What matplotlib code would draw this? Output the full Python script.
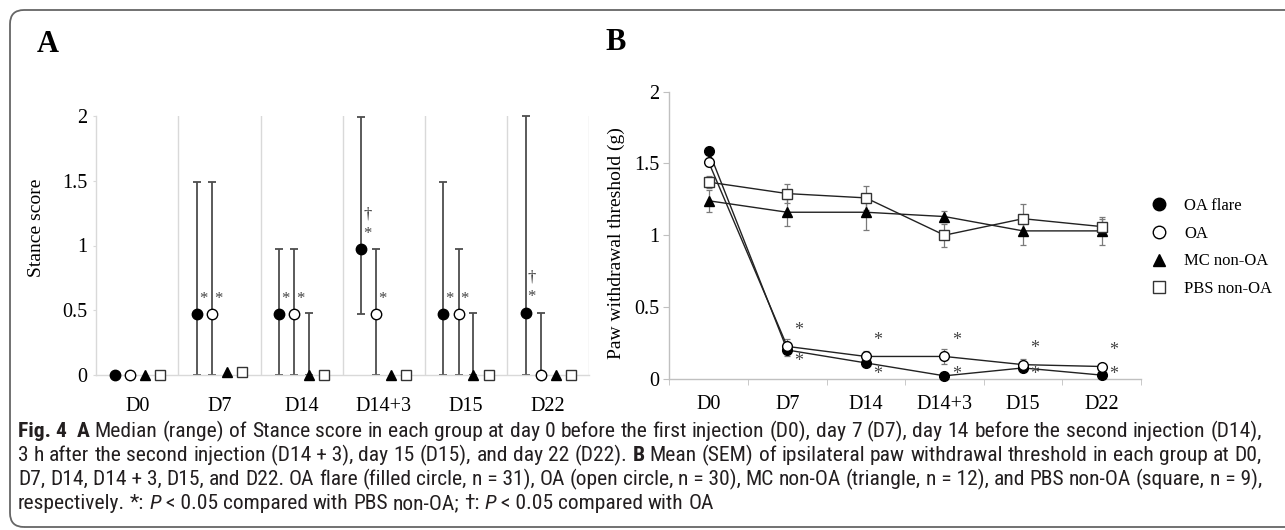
import re

import numpy as np
import matplotlib
matplotlib.use("Agg")
import matplotlib.pyplot as plt
from matplotlib import font_manager
from matplotlib.patches import FancyBboxPatch
from matplotlib.ticker import FormatStrFormatter, FixedLocator
from matplotlib.transforms import IdentityTransform

# ---- data -------------------------------------------------------------
days = ["D0", "D7", "D14", "D14+3", "D15", "D22"]
groups = ["OA flare", "OA", "MC non-OA", "PBS non-OA"]

# panel A: stance score, median and range
stance_med = {
    "OA flare":   [0, 0.47, 0.47, 0.97, 0.47, 0.48],
    "OA":         [0, 0.47, 0.47, 0.47, 0.47, 0],
    "MC non-OA":  [0, 0.02, 0, 0, 0, 0],
    "PBS non-OA": [0, 0.02, 0, 0, 0, 0],
}
stance_lo = {
    "OA flare":   [0, 0, 0, 0.47, 0, 0],
    "OA":         [0, 0, 0, 0, 0, 0],
    "MC non-OA":  [0, 0, 0, 0, 0, 0],
    "PBS non-OA": [0, 0, 0, 0, 0, 0],
}
stance_hi = {
    "OA flare":   [0, 1.49, 0.97, 1.99, 1.49, 2.0],
    "OA":         [0, 1.49, 0.97, 0.97, 0.97, 0.48],
    "MC non-OA":  [0, 0, 0.48, 0, 0.48, 0],
    "PBS non-OA": [0, 0, 0, 0, 0, 0],
}
stance_star = {"OA flare": [1, 2, 3, 4, 5], "OA": [1, 2, 3, 4]}
stance_dagger = {"OA flare": [3, 5]}

# panel B: paw withdrawal threshold, mean and SEM
paw_mean = {
    "OA flare":   [1.59, 0.20, 0.11, 0.02, 0.075, 0.025],
    "OA":         [1.51, 0.225, 0.155, 0.155, 0.098, 0.085],
    "MC non-OA":  [1.24, 1.16, 1.16, 1.13, 1.03, 1.03],
    "PBS non-OA": [1.37, 1.29, 1.26, 1.00, 1.115, 1.06],
}
paw_sem = {
    "OA flare":   [0.02, 0.04, 0.02, 0.01, 0.02, 0.01],
    "OA":         [0.03, 0.05, 0.04, 0.05, 0.04, 0.015],
    "MC non-OA":  [0.075, 0.095, 0.125, 0.04, 0.10, 0.10],
    "PBS non-OA": [0.04, 0.065, 0.085, 0.08, 0.105, 0.05],
}
paw_star_above = [1, 2, 3, 4, 5]   # OA vs PBS
paw_star_below = [1, 2, 3, 4, 5]   # OA flare vs PBS

caption = [
    "<b>Fig.\u00a04</b>\u00a0 <b>A</b> Median (range) of Stance score in each group at day 0 before the first "
    "injection (D0), day 7 (D7), day 14 before the second injection (D14),",
    "3 h after the second injection (D14\u00a0+\u00a03), day 15 (D15), and day 22 (D22). <b>B</b> Mean (SEM) "
    "of ipsilateral paw withdrawal threshold in each group at D0,",
    "D7, D14, D14\u00a0+\u00a03, D15, and D22. OA flare (filled circle, n\u00a0=\u00a031), OA (open circle, "
    "n\u00a0=\u00a030), MC non-OA (triangle, n\u00a0=\u00a012), and PBS non-OA (square, n\u00a0=\u00a09),",
    "respectively. *: <i>P</i>\u00a0<\u00a00.05 compared with PBS non-OA; \u2020: <i>P</i>\u00a0<\u00a00.05 "
    "compared with OA",
]

style = {
    "OA flare":   dict(marker="o", mfc="black", mec="black"),
    "OA":         dict(marker="o", mfc="white", mec="black"),
    "MC non-OA":  dict(marker="^", mfc="black", mec="black"),
    "PBS non-OA": dict(marker="s", mfc="white", mec="#333333"),
}
offsets = {"OA flare": -0.275, "OA": -0.09, "MC non-OA": 0.09, "PBS non-OA": 0.275}

plt.rcParams["font.family"] = ["Liberation Serif", "DejaVu Serif"]

W, H = 1285, 530
fig = plt.figure(figsize=(W / 100, H / 100), dpi=100)


def px_axes(left, top, right, bottom):
    return fig.add_axes([left / W, 1 - bottom / H, (right - left) / W, (bottom - top) / H])


x = np.arange(len(days))
grid_c = "#d9d9d9"

# ---- panel A ----------------------------------------------------------
axA = px_axes(96.3, 116, 589.3, 375)
for g in groups:
    med = np.array(stance_med[g])
    lo = np.array(stance_lo[g])
    hi = np.array(stance_hi[g])
    xs = x + offsets[g]
    has = hi > lo
    axA.errorbar(xs[has], med[has], yerr=[med[has] - lo[has], hi[has] - med[has]], fmt="none",
                 ecolor="#4d4d4d", elinewidth=1.3, capsize=3.2, capthick=1.3, zorder=2, clip_on=False)
    axA.plot(xs, med, ls="none", ms=7.5 if style[g]["marker"] != "s" else 7, mew=1.0,
             zorder=3, clip_on=False, **style[g])

for g, idx in stance_star.items():
    for i in idx:
        axA.text(i + offsets[g] + 0.075, stance_med[g][i] + 0.12, "*", ha="center", va="center",
                 fontsize=12, color="#444444")
for g, idx in stance_dagger.items():
    for i in idx:
        axA.text(i + offsets[g] + 0.075, stance_med[g][i] + 0.27, "\u2020", ha="center",
                 va="center", fontsize=12, color="#333333")

for b in np.arange(len(days)) + 0.5:
    axA.axvline(b, color=grid_c, lw=1.0, zorder=0)
axA.set_xlim(-0.5, len(days) - 0.5)
axA.set_ylim(0, 2)
axA.set_yticks([0, 0.5, 1, 1.5, 2])
axA.yaxis.set_major_formatter(FormatStrFormatter("%g"))
axA.set_xticks(x)
axA.set_xticklabels(days)
axA.tick_params(axis="x", length=0, pad=16, labelsize=14.5)
axA.tick_params(axis="y", length=2.5, color=grid_c, pad=4, labelsize=14.5)
for s in ["top", "right"]:
    axA.spines[s].set_visible(False)
for s in ["left", "bottom"]:
    axA.spines[s].set_color(grid_c)
    axA.spines[s].set_linewidth(1.0)
axA.set_ylabel("Stance score", fontsize=14)
axA.yaxis.set_label_coords(-0.104, 0.57)

# ---- panel B ----------------------------------------------------------
axB = px_axes(669.3, 91.7, 1141, 378.7)
handles = []
for g in groups:
    m = np.array(paw_mean[g])
    e = np.array(paw_sem[g])
    axB.errorbar(x, m, yerr=e, fmt="none", ecolor="#7a7a7a", elinewidth=0.9, capsize=2.2,
                 capthick=0.9, zorder=2)
    (ln,) = axB.plot(x, m, color="#222222", lw=1.0, ms=7 if style[g]["marker"] != "s" else 6.5,
                     mew=1.0, zorder=3, label=g, clip_on=False, **style[g])
    handles.append(ln)

oa = np.array(paw_mean["OA"])
fl = np.array(paw_mean["OA flare"])
for i in paw_star_above:
    axB.text(i + 0.15, oa[i] + 0.11, "*", ha="center", va="center", fontsize=13, color="#444444")
for i in paw_star_below:
    axB.text(i + 0.15, max(fl[i] - 0.08, 0.03), "*", ha="center", va="center", fontsize=13,
             color="#444444")

axB.set_xlim(-0.5, len(days) - 0.5)
axB.set_ylim(0, 2)
axB.set_yticks([0, 0.5, 1, 1.5, 2])
axB.yaxis.set_major_formatter(FormatStrFormatter("%g"))
axB.set_xticks(x)
axB.set_xticklabels(days)
axB.xaxis.set_minor_locator(FixedLocator(np.arange(len(days) + 1) - 0.5))
axB.tick_params(axis="x", which="major", length=0, pad=12, labelsize=14.5)
axB.tick_params(axis="x", which="minor", length=4, color="#c0c0c0")
axB.tick_params(axis="y", length=4, color="#c0c0c0", pad=3, labelsize=14.5)
for s in ["top", "right"]:
    axB.spines[s].set_visible(False)
for s in ["left", "bottom"]:
    axB.spines[s].set_color("#c0c0c0")
    axB.spines[s].set_linewidth(1.0)
axB.set_ylabel("Paw withdrawal threshold (g)", fontsize=14)
axB.yaxis.set_label_coords(-0.094, 0.473)

leg_handles = []
for h in handles:
    lh = plt.Line2D([], [], ls="none", marker=h.get_marker(), mfc=h.get_markerfacecolor(),
                    mec=h.get_markeredgecolor(), ms=9, mew=1.0)
    leg_handles.append(lh)
fig.legend(leg_handles, groups, loc="center left", bbox_to_anchor=(1151 / W, 1 - 247.5 / H),
           frameon=False, fontsize=12, handlelength=1.0, handletextpad=1.0, labelspacing=0.7,
           borderpad=0, borderaxespad=0)

# ---- panel letters and frame -----------------------------------------
fig.text(37, H - 52, "A", transform=IdentityTransform(), fontsize=22, fontweight="bold",
         va="baseline", ha="left")
fig.text(605, H - 50, "B", transform=IdentityTransform(), fontsize=22, fontweight="bold",
         va="baseline", ha="left")

frame = FancyBboxPatch((10, 3), W + 40, H - 13, boxstyle="round,pad=0,rounding_size=14",
                       transform=IdentityTransform(), fill=False, ec="#666666", lw=1.3)
fig.add_artist(frame)

# ---- caption (justified) ----------------------------------------------
names = {f.name for f in font_manager.fontManager.ttflist}
cap_family = next((n for n in ["Liberation Sans Narrow", "Roboto Condensed", "Open Sans Condensed",
                               "Noto Sans", "Liberation Sans"] if n in names), "DejaVu Sans")
cap_size = 12
renderer = fig.canvas.get_renderer()


def parse_words(line):
    words, cur = [], []
    bold = ital = False
    for tok in re.split(r"(</?[bi]>)", line):
        if tok in ("<b>", "</b>"):
            bold = tok == "<b>"
            continue
        if tok in ("<i>", "</i>"):
            ital = tok == "<i>"
            continue
        parts = tok.split(" ")
        for k, p in enumerate(parts):
            if k > 0:
                if cur:
                    words.append(cur)
                cur = []
            if p:
                cur.append((p, bold, ital))
    if cur:
        words.append(cur)
    return words


def piece(xp, yp, txt, bold, ital, size):
    return fig.text(xp, yp, txt, transform=IdentityTransform(), family=[cap_family, "DejaVu Sans"],
                    fontsize=size, fontweight="bold" if bold else "normal",
                    fontstyle="italic" if ital else "normal", va="baseline", ha="left",
                    color="#231f20")


def word_width(word, size):
    w = 0
    for txt, bold, ital in word:
        t = piece(0, 0, txt, bold, ital, size)
        w += t.get_window_extent(renderer).width
        t.remove()
    return w


def space_width(size):
    a = piece(0, 0, "n n", False, False, size)
    b = piece(0, 0, "nn", False, False, size)
    w = a.get_window_extent(renderer).width - b.get_window_extent(renderer).width
    a.remove()
    b.remove()
    return w


x0, x1 = 18, 1262
baselines = [437, 461, 485, 509]
parsed = [parse_words(l) for l in caption]
# scale the caption font so the widest full line fills the frame naturally
widest = max(sum(word_width(w, cap_size) for w in ws) + space_width(cap_size) * (len(ws) - 1)
             for ws in parsed[:3])
cap_size *= (x1 - x0) / widest
space_w = space_width(cap_size)

for li, (ws, yb) in enumerate(zip(parsed, baselines)):
    widths = [word_width(w, cap_size) for w in ws]
    gap = space_w if li == len(parsed) - 1 else (x1 - x0 - sum(widths)) / (len(ws) - 1)
    xc = x0
    for w, wd in zip(ws, widths):
        xp = xc
        for txt, bold, ital in w:
            t = piece(xp, H - yb, txt, bold, ital, cap_size)
            xp += t.get_window_extent(renderer).width
        xc += wd + gap

fig.savefig("out.png", dpi=100)
